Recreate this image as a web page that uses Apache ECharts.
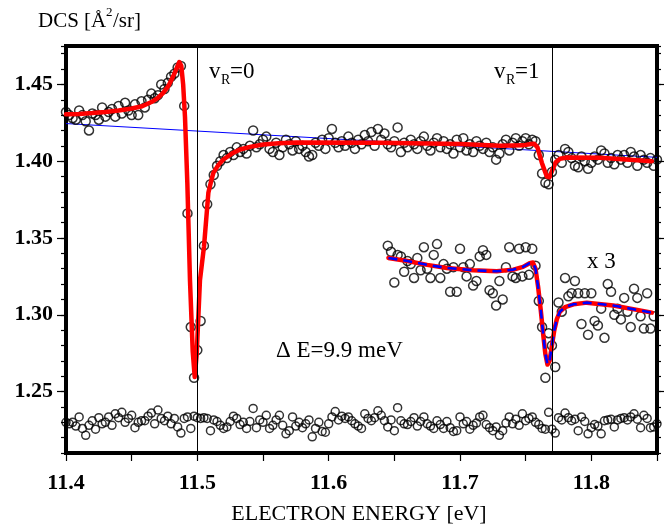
<!DOCTYPE html>
<html><head><meta charset="utf-8">
<script src="https://cdn.jsdelivr.net/npm/echarts@6/dist/echarts.min.js"></script>
<style>html,body{margin:0;padding:0;background:#fff}#c{width:666px;height:529px}</style>
</head><body><div id="c"></div>
<script>
// ---- data ----
const scanStart = 11.4;       // eV, first channel of the scan
const scanStep = 0.0025;      // eV per channel
const x3Start = 11.645;       // eV, first channel of the magnified (x3) trace

const mainDCS = [
 1.432,1.430,1.428,1.427,1.433,1.430,1.426,1.420,1.431,1.430,
 1.427,1.435,1.429,1.432,1.434,1.429,1.436,1.431,1.438,1.433,
 1.430,1.437,1.430,1.439,1.435,1.440,1.444,1.441,1.443,1.450,
 1.447,1.451,1.455,1.457,1.461,1.462,1.436,1.366,1.292,1.259,
 1.277,1.296,1.345,1.372,1.385,1.391,1.397,1.400,1.404,1.402,
 1.406,1.404,1.409,1.406,1.408,1.405,1.410,1.420,1.409,1.411,
 1.414,1.416,1.408,1.406,1.412,1.404,1.409,1.414,1.411,1.407,
 1.413,1.408,1.410,1.406,1.403,1.404,1.412,1.410,1.414,1.408,
 1.415,1.421,1.412,1.409,1.413,1.410,1.416,1.412,1.408,1.414,
 1.411,1.417,1.413,1.419,1.410,1.421,1.414,1.418,1.411,1.409,
 1.413,1.422,1.406,1.412,1.409,1.414,1.411,1.408,1.413,1.416,
 1.410,1.407,1.412,1.415,1.409,1.413,1.408,1.411,1.405,1.414,
 1.409,1.415,1.407,1.411,1.406,1.413,1.410,1.408,1.412,1.406,
 1.409,1.401,1.405,1.411,1.414,1.407,1.412,1.415,1.410,1.413,
 1.415,1.411,1.414,1.413,1.404,1.392,1.386,1.385,1.393,1.401,
 1.404,1.399,1.408,1.406,1.402,1.397,1.396,1.403,1.400,1.395,
 1.399,1.403,1.401,1.407,1.405,1.399,1.402,1.398,1.404,1.401,
 1.404,1.399,1.406,1.403,1.397,1.404,1.401,1.399,1.402,1.397,1.401
];

const residualDCS = [
 1.230,1.229,1.230,1.2275,1.2335,1.226,1.2215,1.228,1.231,1.2255,
 1.233,1.229,1.230,1.2335,1.228,1.2355,1.233,1.2365,1.230,1.2325,
 1.2345,1.2265,1.230,1.231,1.231,1.234,1.236,1.229,1.238,1.2325,
 1.231,1.234,1.229,1.2325,1.227,1.223,1.2325,1.2335,1.226,1.234,
 1.233,1.2325,1.233,1.2325,1.2245,1.2315,1.2305,1.228,1.226,1.227,
 1.2305,1.234,1.2325,1.2285,1.230,1.226,1.2305,1.239,1.2265,1.2315,
 1.230,1.2345,1.226,1.228,1.2315,1.2345,1.228,1.2225,1.2245,1.2335,
 1.2275,1.230,1.2265,1.229,1.2315,1.2205,1.226,1.230,1.224,1.2235,
 1.229,1.2335,1.237,1.2315,1.234,1.2325,1.2335,1.231,1.229,1.2275,
 1.226,1.2355,1.2325,1.231,1.233,1.2375,1.2345,1.231,1.227,1.2315,
 1.2245,1.2395,1.231,1.229,1.2285,1.2305,1.233,1.2275,1.2305,1.2335,
 1.229,1.2275,1.226,1.231,1.2285,1.226,1.2305,1.2265,1.224,1.2245,
 1.2335,1.229,1.2305,1.2255,1.228,1.2295,1.2335,1.2345,1.2285,1.2265,
 1.2245,1.227,1.2215,1.2245,1.2295,1.2335,1.229,1.232,1.228,1.2355,
 1.231,1.2325,1.2335,1.230,1.2285,1.226,1.2255,1.2365,1.2255,1.223,
 1.233,1.2315,1.236,1.233,1.231,1.232,1.2245,1.2335,1.2305,1.2225,
 1.2265,1.2285,1.2275,1.2225,1.231,1.2315,1.232,1.227,1.2315,1.2325,
 1.233,1.2315,1.2335,1.2355,1.232,1.2265,1.2345,1.2325,1.2265,1.227,1.229
];

const x3DCS = [
 1.345,1.341,1.321,1.339,1.338,1.328,1.335,1.333,1.324,1.337,
 1.329,1.344,1.330,1.324,1.339,1.346,1.324,1.333,1.330,1.315,
 1.331,1.315,1.343,1.331,1.325,1.333,1.319,1.322,1.338,1.342,
 1.339,1.316,1.314,1.306,1.322,1.310,1.331,1.344,1.325,1.324,
 1.343,1.325,1.344,1.326,1.343,1.332,1.309,1.292,1.259,1.288,
 1.280,1.266,1.308,1.302,1.324,1.312,1.314,1.322,1.314,1.294,
 1.314,1.287,1.314,1.296,1.293,1.304,1.285,1.320,1.315,1.300,
 1.304,1.297,1.311,1.302,1.292,1.317,1.311,1.299,1.291,1.314,1.291,1.299
];

// fitted curves [energy, DCS]
const fitMain = [
 [11.400,1.4305],[11.410,1.4308],[11.420,1.4313],[11.430,1.4320],[11.440,1.4330],
 [11.450,1.4343],[11.458,1.4358],[11.465,1.4385],[11.470,1.4412],[11.474,1.4445],
 [11.478,1.4490],[11.4817,1.4554],[11.4845,1.4610],[11.4863,1.4646],[11.4878,1.4620],
 [11.4892,1.4500],[11.4906,1.4289],[11.4924,1.3855],[11.4944,1.3225],[11.4965,1.2760],
 [11.4980,1.2595],[11.4995,1.2740],[11.5020,1.3225],[11.5051,1.3446],[11.5084,1.3794],
 [11.5105,1.3870],[11.5122,1.3924],[11.5160,1.3975],[11.5198,1.4011],[11.5260,1.4048],
 [11.5325,1.4076],[11.5410,1.4095],[11.5503,1.4109],[11.5620,1.4117],[11.5757,1.4121],
 [11.6391,1.4120],[11.7000,1.4112],[11.7305,1.4100],[11.7480,1.4103],[11.7540,1.4112],
 [11.7565,1.4113],[11.7590,1.4090],[11.7623,1.3990],[11.7661,1.3900],[11.7681,1.3895],
 [11.7700,1.3935],[11.7730,1.3995],[11.7762,1.4016],[11.7813,1.4024],[11.8067,1.4022],
 [11.8461,1.4000]
];
const fitX3 = [
 [11.6455,1.3370],[11.660,1.3350],[11.675,1.3325],[11.690,1.3305],[11.710,1.3290],
 [11.728,1.3283],[11.7407,1.3294],[11.7480,1.3312],[11.7530,1.3336],[11.7555,1.3340],
 [11.7575,1.3300],[11.7595,1.3180],[11.7615,1.3030],[11.7635,1.2860],[11.7650,1.2745],
 [11.7666,1.2676],[11.7682,1.2700],[11.7699,1.2795],[11.7718,1.2900],[11.7737,1.2970],
 [11.7760,1.3020],[11.7800,1.3050],[11.7864,1.3068],[11.7966,1.3079],[11.8167,1.3060],
 [11.8461,1.3014]
];
const backgroundLine = [[11.40,1.4245],[11.85,1.4025]];
const resonanceEnergies = [11.4975, 11.767];

const xTickLabels = [11.4, 11.5, 11.6, 11.7, 11.8];
const yTickLabels = [1.25, 1.30, 1.35, 1.40, 1.45];

// ---- build ----
const energyAt = (start, i) => +(start + scanStep * i).toFixed(4);
const mainPts = mainDCS.map((v, i) => [energyAt(scanStart, i), v]);
const resPts = residualDCS.map((v, i) => [energyAt(scanStart, i), v]);
const x3Pts = x3DCS.map((v, i) => [energyAt(x3Start, i), v]);

const SERIF = "'Liberation Serif','Times New Roman',serif";
const circleStyle = {color: 'rgba(255,255,255,0)', borderColor: '#000', borderWidth: 1.5};
const yMin = 1.21, yMax = 1.475;
const txt = (x, y, text, size, extra) => ({type: 'text', x, y, z: 10,
  style: Object.assign({text, verticalAlign: 'middle', fontFamily: SERIF, fontSize: size, fill: '#000'}, extra || {})});

const chart = echarts.init(document.getElementById('c'), null, {renderer: 'canvas'});
chart.setOption({
  animation: false,
  backgroundColor: '#fff',
  grid: {left: 66, right: 9, top: 46, bottom: 76, show: true, borderColor: '#000', borderWidth: 4, backgroundColor: 'transparent', containLabel: false},
  xAxis: [{
    type: 'value', min: 11.4, max: 11.85, interval: 0.05, position: 'bottom',
    axisLine: {show: false}, splitLine: {show: false},
    axisTick: {show: true, inside: false, length: 8, lineStyle: {color: '#000', width: 1.2}},
    axisLabel: {customValues: xTickLabels, formatter: v => v.toFixed(1), fontFamily: SERIF, fontWeight: 'bold', fontSize: 22, color: '#000', margin: 19}
  }],
  yAxis: [
    {type: 'value', min: yMin, max: yMax, interval: 0.01, position: 'left',
     axisLine: {show: false}, splitLine: {show: false},
     axisTick: {show: true, length: 5, lineStyle: {color: '#000', width: 1.2}},
     axisLabel: {show: false}},
    {type: 'value', min: yMin, max: yMax, position: 'left',
     axisLine: {show: false}, splitLine: {show: false},
     axisTick: {show: true, customValues: yTickLabels, length: 9, lineStyle: {color: '#000', width: 1.2}},
     axisLabel: {customValues: yTickLabels, formatter: v => v.toFixed(2), fontFamily: SERIF, fontWeight: 'bold', fontSize: 22, color: '#000', margin: 13}},
    {type: 'value', min: yMin, max: yMax, interval: 0.01, position: 'right',
     axisLine: {show: false}, splitLine: {show: false},
     axisTick: {show: true, length: 4, lineStyle: {color: '#000', width: 1.2}},
     axisLabel: {show: false}},
    {type: 'value', min: yMin, max: yMax, position: 'right',
     axisLine: {show: false}, splitLine: {show: false},
     axisTick: {show: true, customValues: yTickLabels, length: 7, lineStyle: {color: '#000', width: 1.2}},
     axisLabel: {show: false}}
  ],
  series: [
    {type: 'line', data: backgroundLine, showSymbol: false, symbol: 'none', z: 1,
     lineStyle: {color: '#0000ff', width: 1},
     markLine: {silent: true, symbol: 'none', label: {show: false},
       lineStyle: {color: '#000', width: 1, type: 'solid'},
       data: resonanceEnergies.map(e => ({xAxis: e}))}},
    {type: 'scatter', data: mainPts, symbol: 'circle', symbolSize: 9, itemStyle: circleStyle, z: 2},
    {type: 'scatter', data: resPts, symbol: 'circle', symbolSize: 8, itemStyle: circleStyle, z: 2},
    {type: 'scatter', data: x3Pts, symbol: 'circle', symbolSize: 9, itemStyle: circleStyle, z: 2},
    {type: 'line', data: fitMain, showSymbol: false, symbol: 'none', z: 3,
     lineStyle: {color: '#ff0000', width: 4.5, cap: 'round', join: 'round'}},
    {type: 'line', data: fitX3, showSymbol: false, symbol: 'none', z: 3,
     lineStyle: {color: '#ff0000', width: 4.5, cap: 'round', join: 'round'}},
    {type: 'line', data: fitX3, showSymbol: false, symbol: 'none', z: 4,
     lineStyle: {color: '#0000ff', width: 2.6, type: [9, 6]}}
  ],
  graphic: [
    txt(38, 21, 'DCS [Å', 21),
    txt(106, 13, '2', 13),
    txt(113, 21, '/sr]', 21),
    txt(209, 72, 'v', 23),
    txt(221, 80, 'R', 14),
    txt(230, 72, '=0', 23),
    txt(494, 72, 'v', 23),
    txt(506, 80, 'R', 14),
    txt(515, 72, '=1', 23),
    txt(587, 262, 'x 3', 23),
    txt(276, 351, 'Δ E=9.9 meV', 23),
    txt(359, 514, 'ELECTRON ENERGY [eV]', 22, {align: 'center'})
  ]
});
</script>
</body></html>
